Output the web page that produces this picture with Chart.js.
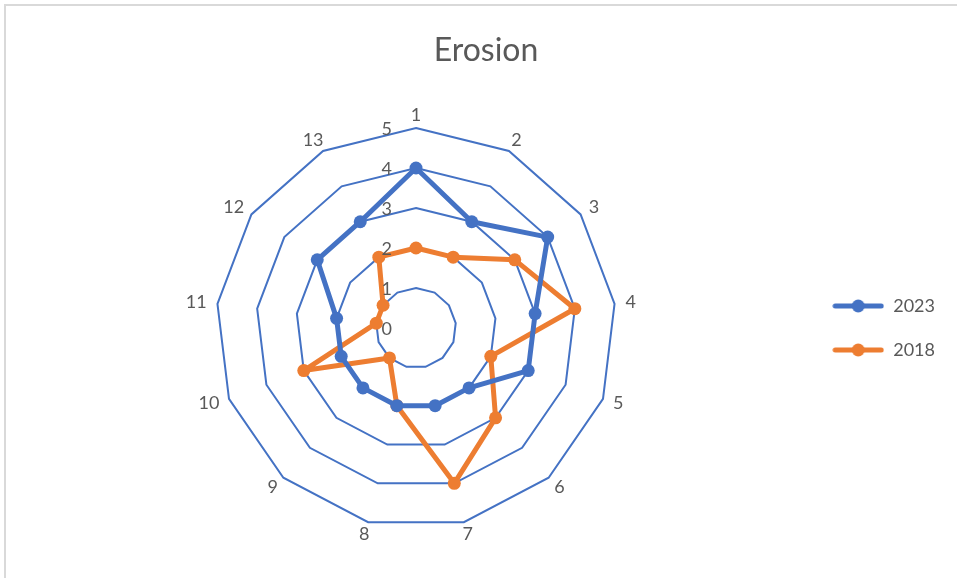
<!DOCTYPE html>
<html>
<head>
<meta charset="utf-8">
<script src="https://cdn.jsdelivr.net/npm/chart.js@4/dist/chart.umd.min.js"></script>
<style>
  html, body { margin: 0; padding: 0; background: #ffffff; }
  #wrap { position: relative; width: 957px; height: 578px; overflow: hidden; }
  #frame { position: absolute; left: 4px; top: 4px; width: 1000px; height: 1000px;
           border-left: 2px solid #d9d9d9; border-top: 2px solid #d9d9d9; pointer-events: none; }
  canvas { position: absolute; left: 0; top: 0; }
</style>
</head>
<body>
<div id="wrap">
  <canvas id="chart" width="957" height="578"></canvas>
  <div id="frame"></div>
</div>
<script>
// Survey points around the site and erosion scores per year
const categories = ['1', '2', '3', '4', '5', '6', '7', '8', '9', '10', '11', '12', '13'];
const erosion2023 = [4, 3, 4, 3, 3, 2, 2, 2, 2, 2, 2, 3, 3];
const erosion2018 = [2, 2, 3, 4, 2, 3, 4, 2, 1, 3, 1, 1, 2];
const scaleTicks = [0, 1, 2, 3, 4, 5];

const BLUE = '#4472C4';
const ORANGE = '#ED7D31';
const TEXT = '#595959';
const FONT = 'Lato, "Open Sans", sans-serif';

// Legend swatch: a short line with a marker in the middle
function swatch(color) {
  const c = document.createElement('canvas');
  c.width = 52; c.height = 14;
  const g = c.getContext('2d');
  g.strokeStyle = color; g.lineWidth = 5; g.lineCap = 'round';
  g.beginPath(); g.moveTo(3, 7); g.lineTo(49, 7); g.stroke();
  g.fillStyle = color;
  g.beginPath(); g.arc(26, 7, 6.5, 0, Math.PI * 2); g.fill();
  return c;
}

// Axis text: value labels left of the vertical axis and category labels outside the rim
const radarText = {
  id: 'radarText',
  afterDatasetsDraw(chart) {
    const s = chart.scales.r;
    const ctx = chart.ctx;
    ctx.save();
    ctx.font = '18px ' + FONT;
    ctx.fillStyle = TEXT;
    ctx.textBaseline = 'middle';

    ctx.textAlign = 'right';
    scaleTicks.forEach(v => {
      const d = s.getDistanceFromCenterForValue(v);
      ctx.fillText(String(v), s.xCenter - 24, s.yCenter - d + 1);
    });

    ctx.textAlign = 'center';
    const rim = s.drawingArea + 6;
    const h = 13;
    categories.forEach((label, i) => {
      const p = s.getPointPosition(i, rim);
      const ux = (p.x - s.xCenter) / rim;
      const uy = (p.y - s.yCenter) / rim;
      const w = ctx.measureText(label).width;
      ctx.fillText(label, p.x + ux * (w / 2 + 5), p.y + uy * h / 2);
    });
    ctx.restore();
  }
};

new Chart(document.getElementById('chart'), {
  type: 'radar',
  data: {
    labels: categories,
    datasets: [
      {
        label: '2023', data: erosion2023,
        borderColor: BLUE, backgroundColor: BLUE, borderWidth: 5,
        borderJoinStyle: 'round', borderCapStyle: 'round',
        pointRadius: 6.5, pointBackgroundColor: BLUE, pointBorderWidth: 0,
        pointStyle: 'circle', fill: false
      },
      {
        label: '2018', data: erosion2018,
        borderColor: ORANGE, backgroundColor: ORANGE, borderWidth: 5,
        borderJoinStyle: 'round', borderCapStyle: 'round',
        pointRadius: 6.5, pointBackgroundColor: ORANGE, pointBorderWidth: 0,
        pointStyle: 'circle', fill: false
      }
    ]
  },
  options: {
    responsive: false,
    animation: false,
    layout: { padding: { left: 27, right: 12, top: 0, bottom: 50 } },
    elements: { line: { tension: 0 } },
    scales: {
      r: {
        min: 0, max: 5,
        ticks: { stepSize: 1, display: false },
        grid: { color: BLUE, lineWidth: 2 },
        angleLines: { display: false },
        pointLabels: { display: false }
      }
    },
    plugins: {
      title: {
        display: true, text: 'Erosion', color: TEXT,
        font: { family: FONT, size: 32, weight: 'normal' },
        padding: { top: 31, bottom: 58.6 }
      },
      legend: {
        position: 'right',
        title: { display: true, text: ' ', font: { size: 10 }, padding: { top: 116, bottom: 0 } },
        labels: {
          color: TEXT, font: { family: FONT, size: 18 },
          usePointStyle: true, pointStyleWidth: 52, padding: 26,
          generateLabels(chart) {
            return chart.data.datasets.map((ds, i) => ({
              text: ds.label,
              fontColor: TEXT,
              pointStyle: swatch(ds.borderColor),
              fillStyle: ds.borderColor,
              strokeStyle: ds.borderColor,
              lineWidth: 0,
              hidden: false,
              datasetIndex: i
            }));
          }
        }
      },
      tooltip: { enabled: false }
    }
  },
  plugins: [radarText]
});
</script>
</body>
</html>
